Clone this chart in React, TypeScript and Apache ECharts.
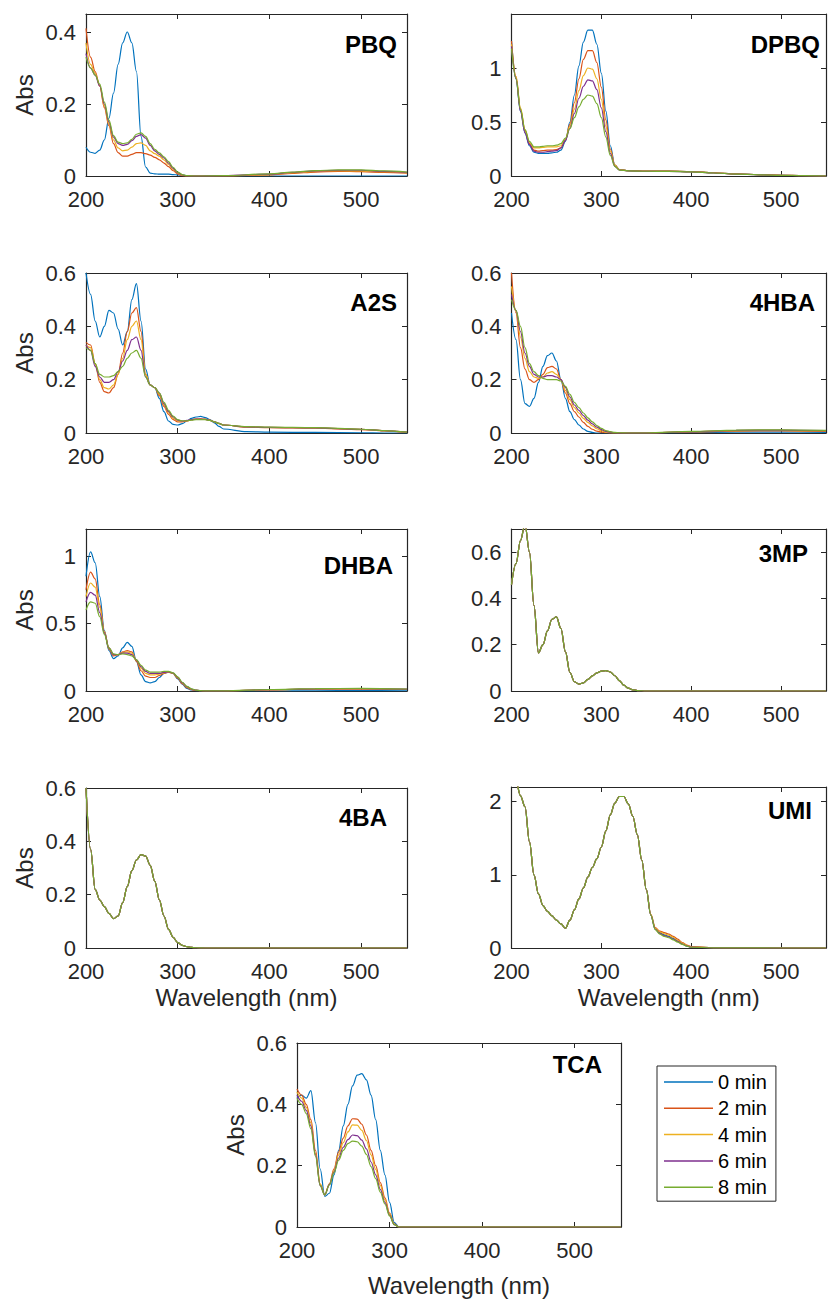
import React, { useEffect, useRef } from "react";
import * as echarts from "echarts";

const seriesNames = ["0 min", "2 min", "4 min", "6 min", "8 min"];
const colors = ["#0072BD", "#D95319", "#EDB120", "#7E2F8E", "#77AC30"];
const xLabel = "Wavelength (nm)";
const yLabel = "Abs";

// ---------- PBQ ----------
const pbqWl = [200, 205, 210, 215, 220, 225, 230, 235, 240, 245, 250, 255, 260, 265, 270, 275, 280, 285, 290, 295, 300, 305, 310, 320, 350, 400, 425, 450, 475, 500, 525, 550];
const pbq0 = [0.08, 0.066, 0.063, 0.072, 0.1, 0.16, 0.23, 0.31, 0.37, 0.4, 0.37, 0.29, 0.11, 0.025, 0.008, 0.006, 0.005, 0.005, 0.005, 0.004, 0.003, 0.002, 0.001, 0, 0, 0, 0, 0, 0, 0, 0, 0];
const pbq2 = [0.41, 0.33, 0.29, 0.25, 0.19, 0.14, 0.09, 0.065, 0.055, 0.055, 0.06, 0.065, 0.065, 0.062, 0.058, 0.052, 0.045, 0.036, 0.026, 0.015, 0.006, 0.001, 0, 0, 0, 0.003, 0.007, 0.011, 0.013, 0.012, 0.01, 0.008];
const pbq4 = [0.37, 0.31, 0.285, 0.25, 0.195, 0.145, 0.1, 0.078, 0.07, 0.072, 0.08, 0.09, 0.092, 0.085, 0.07, 0.062, 0.055, 0.045, 0.032, 0.018, 0.008, 0.002, 0, 0, 0, 0.004, 0.009, 0.013, 0.015, 0.014, 0.012, 0.009];
const pbq6 = [0.34, 0.3, 0.28, 0.25, 0.2, 0.15, 0.108, 0.09, 0.085, 0.088, 0.098, 0.11, 0.115, 0.105, 0.085, 0.07, 0.06, 0.05, 0.036, 0.021, 0.009, 0.003, 0, 0, 0.001, 0.005, 0.01, 0.014, 0.016, 0.016, 0.013, 0.01];
const pbq8 = [0.33, 0.3, 0.28, 0.255, 0.205, 0.155, 0.112, 0.094, 0.09, 0.092, 0.102, 0.116, 0.12, 0.11, 0.09, 0.074, 0.064, 0.053, 0.04, 0.024, 0.011, 0.004, 0.001, 0, 0.001, 0.006, 0.011, 0.015, 0.017, 0.017, 0.014, 0.011];

// ---------- DPBQ ----------
const dpbqWl = [200, 205, 210, 215, 220, 225, 230, 235, 240, 245, 250, 255, 260, 265, 270, 275, 280, 285, 290, 295, 300, 305, 310, 315, 320, 330, 350, 375, 400, 425, 450, 475, 500, 525, 550];
const dpbq0 = [1.25, 0.9, 0.6, 0.4, 0.28, 0.22, 0.21, 0.21, 0.21, 0.215, 0.22, 0.24, 0.32, 0.5, 0.75, 1.02, 1.24, 1.35, 1.35, 1.22, 0.95, 0.6, 0.28, 0.1, 0.06, 0.05, 0.045, 0.045, 0.04, 0.03, 0.02, 0.012, 0.007, 0.003, 0];
const dpbq2 = [1.25, 0.92, 0.62, 0.42, 0.3, 0.24, 0.23, 0.235, 0.24, 0.24, 0.245, 0.26, 0.33, 0.48, 0.68, 0.9, 1.08, 1.16, 1.16, 1.05, 0.82, 0.52, 0.25, 0.1, 0.06, 0.05, 0.045, 0.045, 0.04, 0.03, 0.02, 0.012, 0.007, 0.003, 0];
const dpbq4 = [1.22, 0.92, 0.63, 0.43, 0.31, 0.26, 0.26, 0.265, 0.27, 0.27, 0.27, 0.28, 0.34, 0.46, 0.62, 0.79, 0.93, 1.0, 0.99, 0.9, 0.71, 0.46, 0.23, 0.1, 0.06, 0.05, 0.045, 0.045, 0.04, 0.03, 0.02, 0.012, 0.007, 0.003, 0];
const dpbq6 = [1.2, 0.9, 0.6, 0.4, 0.29, 0.23, 0.22, 0.22, 0.225, 0.23, 0.235, 0.26, 0.33, 0.44, 0.58, 0.72, 0.83, 0.89, 0.88, 0.8, 0.63, 0.41, 0.21, 0.09, 0.055, 0.048, 0.044, 0.043, 0.038, 0.028, 0.018, 0.011, 0.006, 0.003, 0];
const dpbq8 = [1.18, 0.9, 0.62, 0.43, 0.32, 0.27, 0.27, 0.275, 0.28, 0.28, 0.285, 0.3, 0.35, 0.44, 0.54, 0.64, 0.71, 0.75, 0.74, 0.67, 0.54, 0.36, 0.19, 0.09, 0.055, 0.048, 0.044, 0.043, 0.038, 0.028, 0.018, 0.011, 0.006, 0.003, 0];

// ---------- A2S ----------
const a2sWl = [200, 205, 210, 215, 220, 225, 230, 235, 240, 245, 250, 255, 260, 265, 270, 275, 280, 285, 290, 295, 300, 305, 310, 315, 320, 325, 330, 335, 340, 345, 350, 375, 400, 450, 500, 525, 550];
const a2s0 = [0.6, 0.52, 0.42, 0.36, 0.4, 0.46, 0.45, 0.39, 0.33, 0.38, 0.5, 0.56, 0.42, 0.24, 0.18, 0.17, 0.13, 0.08, 0.045, 0.032, 0.03, 0.035, 0.045, 0.055, 0.06, 0.062, 0.058, 0.05, 0.038, 0.025, 0.015, 0.005, 0.003, 0.002, 0.001, 0, 0];
const a2s2 = [0.34, 0.33, 0.26, 0.19, 0.155, 0.15, 0.17, 0.22, 0.3, 0.38, 0.45, 0.47, 0.38, 0.22, 0.18, 0.17, 0.14, 0.1, 0.07, 0.05, 0.042, 0.042, 0.045, 0.05, 0.052, 0.053, 0.052, 0.048, 0.042, 0.035, 0.03, 0.022, 0.02, 0.018, 0.013, 0.008, 0.002];
const a2s4 = [0.33, 0.32, 0.26, 0.2, 0.17, 0.165, 0.18, 0.22, 0.28, 0.35, 0.4, 0.42, 0.35, 0.22, 0.18, 0.17, 0.145, 0.105, 0.075, 0.055, 0.045, 0.044, 0.046, 0.05, 0.052, 0.052, 0.051, 0.047, 0.042, 0.036, 0.03, 0.023, 0.021, 0.019, 0.014, 0.009, 0.003];
const a2s6 = [0.33, 0.31, 0.25, 0.21, 0.19, 0.19, 0.2, 0.23, 0.27, 0.31, 0.35, 0.36, 0.31, 0.21, 0.18, 0.17, 0.15, 0.11, 0.08, 0.06, 0.048, 0.045, 0.047, 0.05, 0.052, 0.052, 0.051, 0.047, 0.042, 0.036, 0.03, 0.023, 0.021, 0.019, 0.014, 0.009, 0.003];
const a2s8 = [0.32, 0.31, 0.26, 0.22, 0.21, 0.21, 0.215, 0.23, 0.25, 0.28, 0.3, 0.31, 0.28, 0.21, 0.18, 0.17, 0.15, 0.115, 0.085, 0.063, 0.05, 0.046, 0.046, 0.048, 0.05, 0.05, 0.05, 0.047, 0.042, 0.036, 0.03, 0.024, 0.022, 0.02, 0.014, 0.009, 0.003];

// ---------- 4HBA ----------
const hbaWl = [200, 205, 210, 215, 220, 225, 230, 235, 240, 245, 250, 255, 260, 265, 270, 275, 280, 285, 290, 295, 300, 305, 310, 315, 320, 330, 350, 400, 450, 500, 550];
const hba0 = [0.45, 0.35, 0.2, 0.11, 0.1, 0.13, 0.19, 0.25, 0.29, 0.3, 0.27, 0.2, 0.13, 0.08, 0.05, 0.03, 0.015, 0.006, 0.002, 0, 0, 0, 0, 0, 0, 0, 0, 0.002, 0.003, 0.003, 0.002];
const hba2 = [0.6, 0.45, 0.32, 0.24, 0.2, 0.19, 0.2, 0.22, 0.245, 0.25, 0.24, 0.2, 0.15, 0.11, 0.08, 0.06, 0.04, 0.025, 0.014, 0.007, 0.003, 0.001, 0, 0, 0, 0, 0, 0.004, 0.007, 0.008, 0.006];
const hba4 = [0.55, 0.46, 0.36, 0.28, 0.23, 0.21, 0.205, 0.21, 0.225, 0.23, 0.22, 0.2, 0.16, 0.125, 0.095, 0.075, 0.055, 0.04, 0.027, 0.016, 0.008, 0.003, 0.001, 0, 0, 0, 0, 0.005, 0.009, 0.01, 0.008];
const hba6 = [0.52, 0.46, 0.38, 0.3, 0.25, 0.22, 0.21, 0.21, 0.215, 0.215, 0.21, 0.2, 0.17, 0.135, 0.105, 0.085, 0.065, 0.048, 0.034, 0.022, 0.013, 0.006, 0.003, 0.001, 0, 0, 0, 0.005, 0.01, 0.011, 0.009];
const hba8 = [0.5, 0.46, 0.4, 0.32, 0.26, 0.23, 0.215, 0.205, 0.2, 0.2, 0.2, 0.195, 0.175, 0.145, 0.115, 0.095, 0.075, 0.057, 0.042, 0.028, 0.017, 0.009, 0.005, 0.002, 0.001, 0, 0, 0.006, 0.011, 0.012, 0.01];

// ---------- DHBA ----------
const dhbaWl = [200, 205, 210, 215, 220, 225, 230, 235, 240, 245, 250, 255, 260, 265, 270, 275, 280, 285, 290, 295, 300, 305, 310, 315, 320, 325, 330, 350, 400, 450, 500, 550];
const dhba0 = [0.85, 1.03, 0.95, 0.7, 0.45, 0.3, 0.24, 0.26, 0.32, 0.36, 0.33, 0.22, 0.12, 0.07, 0.06, 0.07, 0.1, 0.13, 0.14, 0.13, 0.09, 0.05, 0.02, 0.008, 0.003, 0.001, 0, 0, 0, 0.002, 0.003, 0.002];
const dhba2 = [0.75, 0.88, 0.83, 0.64, 0.44, 0.31, 0.26, 0.27, 0.29, 0.3, 0.29, 0.22, 0.15, 0.11, 0.1, 0.1, 0.115, 0.13, 0.14, 0.13, 0.095, 0.055, 0.025, 0.01, 0.004, 0.002, 0.001, 0.001, 0.008, 0.014, 0.015, 0.011];
const dhba4 = [0.7, 0.8, 0.77, 0.62, 0.44, 0.32, 0.27, 0.27, 0.285, 0.29, 0.28, 0.23, 0.17, 0.13, 0.12, 0.12, 0.125, 0.135, 0.14, 0.13, 0.1, 0.06, 0.03, 0.013, 0.005, 0.002, 0.001, 0.001, 0.009, 0.015, 0.017, 0.013];
const dhba6 = [0.66, 0.73, 0.71, 0.58, 0.43, 0.32, 0.27, 0.27, 0.28, 0.28, 0.27, 0.23, 0.18, 0.145, 0.13, 0.13, 0.13, 0.138, 0.142, 0.132, 0.102, 0.062, 0.032, 0.014, 0.006, 0.003, 0.001, 0.001, 0.01, 0.016, 0.018, 0.014];
const dhba8 = [0.6, 0.66, 0.65, 0.55, 0.42, 0.32, 0.275, 0.27, 0.275, 0.27, 0.26, 0.23, 0.19, 0.155, 0.14, 0.14, 0.14, 0.145, 0.145, 0.135, 0.105, 0.065, 0.035, 0.016, 0.007, 0.003, 0.001, 0.001, 0.011, 0.017, 0.02, 0.015];

// ---------- 3MP (all five spectra overlap) ----------
const mpWl = [200, 205, 210, 215, 220, 225, 230, 235, 240, 245, 250, 255, 260, 265, 270, 275, 280, 285, 290, 295, 300, 305, 310, 315, 320, 325, 330, 335, 340, 350, 400, 450, 500, 550];
const mpAbs = [0.46, 0.55, 0.65, 0.72, 0.6, 0.37, 0.165, 0.2, 0.26, 0.31, 0.32, 0.27, 0.17, 0.08, 0.04, 0.03, 0.035, 0.05, 0.065, 0.078, 0.086, 0.088, 0.082, 0.066, 0.045, 0.025, 0.012, 0.005, 0.002, 0, 0, 0, 0, 0];

// ---------- 4BA (all five spectra overlap) ----------
const baWl = [200, 205, 210, 215, 220, 225, 230, 235, 240, 245, 250, 255, 260, 265, 270, 275, 280, 285, 290, 295, 300, 305, 310, 315, 320, 330, 350, 400, 450, 500, 550];
const baAbs = [0.6, 0.37, 0.22, 0.18, 0.155, 0.13, 0.11, 0.12, 0.17, 0.23, 0.29, 0.33, 0.35, 0.345, 0.31, 0.25, 0.18, 0.12, 0.07, 0.04, 0.02, 0.01, 0.005, 0.002, 0.001, 0, 0, 0, 0, 0, 0];

// ---------- UMI ----------
const umiWl = [200, 205, 210, 215, 220, 225, 230, 235, 240, 245, 250, 255, 260, 265, 270, 275, 280, 285, 290, 295, 300, 305, 310, 315, 320, 325, 330, 335, 340, 345, 350, 355, 360, 365, 370, 375, 380, 385, 390, 395, 400, 425, 450, 500, 550];
const umi0 = [2.45, 2.28, 2.08, 1.93, 1.45, 1.0, 0.74, 0.58, 0.5, 0.44, 0.38, 0.33, 0.27, 0.38, 0.52, 0.67, 0.82, 0.97, 1.1, 1.22, 1.38, 1.6, 1.82, 1.98, 2.07, 2.07, 1.97, 1.8, 1.55, 1.2, 0.8, 0.45, 0.26, 0.21, 0.18, 0.16, 0.13, 0.095, 0.06, 0.03, 0.012, 0.003, 0.001, 0, 0];
const umi2 = [2.45, 2.28, 2.08, 1.93, 1.45, 1.0, 0.74, 0.58, 0.5, 0.44, 0.38, 0.33, 0.27, 0.38, 0.52, 0.67, 0.82, 0.97, 1.1, 1.22, 1.38, 1.6, 1.82, 1.98, 2.07, 2.07, 1.97, 1.8, 1.55, 1.2, 0.8, 0.46, 0.28, 0.23, 0.21, 0.19, 0.16, 0.12, 0.075, 0.04, 0.018, 0.004, 0.001, 0, 0];
const umi4 = [2.45, 2.28, 2.08, 1.93, 1.45, 1.0, 0.74, 0.58, 0.5, 0.44, 0.38, 0.33, 0.27, 0.38, 0.52, 0.67, 0.82, 0.97, 1.1, 1.22, 1.38, 1.6, 1.82, 1.98, 2.07, 2.07, 1.97, 1.8, 1.55, 1.2, 0.8, 0.455, 0.27, 0.22, 0.195, 0.175, 0.145, 0.105, 0.067, 0.035, 0.015, 0.003, 0.001, 0, 0];
const umi6 = [2.45, 2.28, 2.08, 1.93, 1.45, 1.0, 0.74, 0.58, 0.5, 0.44, 0.38, 0.33, 0.27, 0.38, 0.52, 0.67, 0.82, 0.97, 1.1, 1.22, 1.38, 1.6, 1.82, 1.98, 2.07, 2.07, 1.97, 1.8, 1.55, 1.2, 0.8, 0.45, 0.255, 0.2, 0.17, 0.15, 0.12, 0.09, 0.055, 0.028, 0.011, 0.003, 0.001, 0, 0];
const umi8 = [2.45, 2.28, 2.08, 1.93, 1.45, 1.0, 0.74, 0.58, 0.5, 0.44, 0.38, 0.33, 0.27, 0.38, 0.52, 0.67, 0.82, 0.97, 1.1, 1.22, 1.38, 1.6, 1.82, 1.98, 2.07, 2.07, 1.97, 1.8, 1.55, 1.2, 0.8, 0.45, 0.25, 0.19, 0.16, 0.14, 0.11, 0.08, 0.05, 0.025, 0.01, 0.003, 0.001, 0, 0];

// ---------- TCA ----------
const tcaWl = [200, 205, 210, 215, 220, 225, 230, 235, 240, 245, 250, 255, 260, 265, 270, 275, 280, 285, 290, 295, 300, 305, 310, 320, 350, 400, 450, 500, 550];
const tca0 = [0.42, 0.43, 0.42, 0.445, 0.34, 0.19, 0.1, 0.11, 0.17, 0.25, 0.33, 0.4, 0.46, 0.495, 0.5, 0.48, 0.43, 0.35, 0.25, 0.17, 0.08, 0.015, 0, 0, 0, 0, 0, 0, 0];
const tca2 = [0.45, 0.43, 0.4, 0.35, 0.25, 0.14, 0.105, 0.14, 0.19, 0.245, 0.29, 0.33, 0.353, 0.352, 0.335, 0.3, 0.25, 0.2, 0.145, 0.095, 0.045, 0.01, 0, 0, 0, 0, 0, 0, 0];
const tca4 = [0.44, 0.42, 0.39, 0.34, 0.24, 0.14, 0.105, 0.14, 0.185, 0.235, 0.275, 0.31, 0.333, 0.332, 0.315, 0.282, 0.235, 0.188, 0.136, 0.089, 0.042, 0.009, 0, 0, 0, 0, 0, 0, 0];
const tca6 = [0.43, 0.41, 0.38, 0.33, 0.235, 0.135, 0.105, 0.138, 0.18, 0.225, 0.26, 0.285, 0.3, 0.298, 0.283, 0.255, 0.212, 0.17, 0.123, 0.08, 0.038, 0.008, 0, 0, 0, 0, 0, 0, 0];
const tca8 = [0.42, 0.4, 0.37, 0.32, 0.23, 0.135, 0.105, 0.137, 0.177, 0.218, 0.25, 0.272, 0.28, 0.278, 0.264, 0.237, 0.197, 0.158, 0.114, 0.075, 0.036, 0.008, 0, 0, 0, 0, 0, 0, 0];

// ---------- panels (data) ----------
const panels = [
  { title: "PBQ", wl: pbqWl, spectra: [pbq0, pbq2, pbq4, pbq6, pbq8], yMax: 0.45, yStep: 0.2, showTop: false },
  { title: "DPBQ", wl: dpbqWl, spectra: [dpbq0, dpbq2, dpbq4, dpbq6, dpbq8], yMax: 1.5, yStep: 0.5, showTop: false },
  { title: "A2S", wl: a2sWl, spectra: [a2s0, a2s2, a2s4, a2s6, a2s8], yMax: 0.6, yStep: 0.2, showTop: true },
  { title: "4HBA", wl: hbaWl, spectra: [hba0, hba2, hba4, hba6, hba8], yMax: 0.6, yStep: 0.2, showTop: true },
  { title: "DHBA", wl: dhbaWl, spectra: [dhba0, dhba2, dhba4, dhba6, dhba8], yMax: 1.2, yStep: 0.5, showTop: false },
  { title: "3MP", wl: mpWl, spectra: [mpAbs, mpAbs, mpAbs, mpAbs, mpAbs], yMax: 0.7, yStep: 0.2, showTop: false },
  { title: "4BA", wl: baWl, spectra: [baAbs, baAbs, baAbs, baAbs, baAbs], yMax: 0.6, yStep: 0.2, showTop: true },
  { title: "UMI", wl: umiWl, spectra: [umi0, umi2, umi4, umi6, umi8], yMax: 2.2, yStep: 1, showTop: false },
  { title: "TCA", wl: tcaWl, spectra: [tca0, tca2, tca4, tca6, tca8], yMax: 0.6, yStep: 0.2, showTop: true },
];

// ---------- layout (positions only) ----------
const layout = [
  { left: 86, top: 14, width: 321, height: 162, abs: true, wave: 0, tx: 397, ty: 44 },
  { left: 511.5, top: 14, width: 324, height: 162, abs: false, wave: 0, tx: 820, ty: 44 },
  { left: 86, top: 273, width: 321, height: 160, abs: true, wave: 0, tx: 397, ty: 302 },
  { left: 511.5, top: 273, width: 324, height: 160, abs: false, wave: 0, tx: 815, ty: 302 },
  { left: 86, top: 529, width: 321, height: 162, abs: true, wave: 0, tx: 393, ty: 565 },
  { left: 511.5, top: 529, width: 324, height: 162, abs: false, wave: 0, tx: 808, ty: 553 },
  { left: 86, top: 788, width: 321, height: 160, abs: true, wave: 37, tx: 387, ty: 817 },
  { left: 511.5, top: 787, width: 324, height: 161, abs: false, wave: 37, tx: 812, ty: 810 },
  { left: 297, top: 1043, width: 324, height: 184, abs: true, wave: 46, tx: 602, ty: 1064 },
];

const FONT = "Liberation Sans";
const INK = "#262626";

function stepFormatter(step: number, max: number, showTop: boolean) {
  return (v: number) => {
    if (!showTop && Math.abs(v - max) < 1e-9) return "";
    const r = v / step;
    if (Math.abs(r - Math.round(r)) > 1e-6) return "";
    return String(Math.round(v * 1000) / 1000);
  };
}

function buildOption() {
  const grid: any[] = [];
  const xAxis: any[] = [];
  const yAxis: any[] = [];
  const series: any[] = [];
  const graphic: any[] = [];
  const line = { show: true, onZero: false, lineStyle: { color: INK, width: 1.2 } };
  const tick = { show: true, inside: true, length: 5, lineStyle: { color: INK, width: 1 } };

  panels.forEach((p, i) => {
    const L = layout[i];
    grid.push({ left: L.left, top: L.top, width: L.width, height: L.height, containLabel: false });
    xAxis.push({
      gridIndex: i, type: "value", min: 200, max: 550, interval: 100, position: "bottom",
      axisLine: line, axisTick: tick, splitLine: { show: false },
      axisLabel: { formatter: stepFormatter(100, 550, false), fontSize: 22, color: INK, margin: 12, fontFamily: FONT },
      name: L.wave ? xLabel : "", nameLocation: "middle", nameGap: L.wave || 0,
      nameTextStyle: { fontSize: 24, color: INK, fontFamily: FONT },
    });
    xAxis.push({
      gridIndex: i, type: "value", min: 200, max: 550, interval: 100, position: "top",
      axisLine: line, axisTick: tick, splitLine: { show: false }, axisLabel: { show: false },
    });
    yAxis.push({
      gridIndex: i, type: "value", min: 0, max: p.yMax, interval: p.yStep, position: "left",
      axisLine: line, axisTick: tick, splitLine: { show: false },
      axisLabel: { formatter: stepFormatter(p.yStep, p.yMax, p.showTop), fontSize: 22, color: INK, margin: 10, fontFamily: FONT },
      name: L.abs ? yLabel : "", nameLocation: "middle", nameGap: 50,
      nameTextStyle: { fontSize: 24, color: INK, fontFamily: FONT },
    });
    yAxis.push({
      gridIndex: i, type: "value", min: 0, max: p.yMax, interval: p.yStep, position: "right",
      axisLine: line, axisTick: tick, splitLine: { show: false }, axisLabel: { show: false },
    });
    p.spectra.forEach((vals, k) => {
      series.push({
        name: seriesNames[k], type: "line", xAxisIndex: 2 * i, yAxisIndex: 2 * i,
        data: p.wl.map((w, j) => [w, vals[j]]),
        symbol: "none", showSymbol: false, smooth: 0.35, smoothMonotone: "x", clip: true,
        lineStyle: { color: colors[k], width: 1.2 }, itemStyle: { color: colors[k] },
      });
    });
    graphic.push({
      type: "text", x: L.tx, y: L.ty, z: 100,
      style: { text: p.title, align: "right", verticalAlign: "middle", fontSize: 24, fontWeight: "bold", fontFamily: FONT, fill: "#000" },
    });
  });

  return {
    animation: false,
    backgroundColor: "#fff",
    textStyle: { fontFamily: FONT },
    grid, xAxis, yAxis, series, graphic,
    legend: {
      data: seriesNames, orient: "vertical", left: 657, top: 1066,
      icon: "rect", itemWidth: 49, itemHeight: 1.5, itemGap: 6.3,
      padding: [6, 9, 4, 7],
      borderColor: INK, borderWidth: 1, backgroundColor: "#fff",
      textStyle: { fontSize: 20, color: "#000", fontFamily: FONT, lineHeight: 20 },
    },
  };
}

export default function App() {
  const ref = useRef<HTMLDivElement>(null);
  useEffect(() => {
    if (!ref.current) return;
    const chart = echarts.init(ref.current, null, { renderer: "svg" });
    chart.setOption(buildOption() as any);
    return () => chart.dispose();
  }, []);
  return <div ref={ref} style={{ position: "absolute", left: 0, top: 0, width: 829, height: 1299, background: "#fff" }} />;
}
